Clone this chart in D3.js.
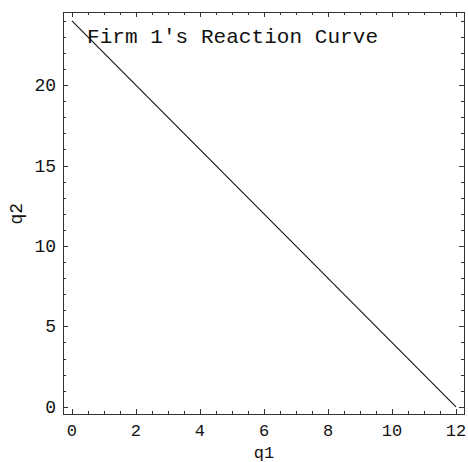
<!DOCTYPE html>
<html>
<head>
<meta charset="utf-8">
<script src="https://cdn.jsdelivr.net/npm/d3@7"></script>
<style>
  html, body { margin: 0; padding: 0; background: #fff; }
  svg { display: block; }
</style>
</head>
<body>
<svg id="chart" width="468" height="462"></svg>
<script>
// Firm 1's reaction curve: q2 = 24 - 2 q1
const q1Values = [0, 12];
const q2Values = [24, 0];
const xTickValues = [0, 2, 4, 6, 8, 10, 12];
const yTickValues = [0, 5, 10, 15, 20];
const xMinorStep = 0.5;
const yMinorStep = 1;
const curveLabel = "Firm 1's Reaction Curve";
const xTitle = "q1";
const yTitle = "q2";

const frame = { left: 63, right: 464, top: 12, bottom: 414 };
const mono = "'Liberation Mono', 'DejaVu Sans Mono', monospace";

const svg = d3.select("#chart");

// Plot range is padded slightly beyond the data, as in a framed plot
const x = d3.scaleLinear().domain([-0.28, 12.25]).range([frame.left, frame.right]);
const y = d3.scaleLinear().domain([-0.45, 24.55]).range([frame.bottom, frame.top]);

const frameColor = "#333";

// Ticks on all four sides of the frame, pointing inward
function range(a, b, step) {
  const out = [];
  for (let v = a; v <= b + 1e-9; v += step) out.push(+v.toFixed(6));
  return out;
}
const xMinor = range(0, 12, xMinorStep).filter(v => !xTickValues.includes(v));
const yMinor = range(0, 24, yMinorStep).filter(v => !yTickValues.includes(v));

const ticks = svg.append("g").attr("stroke", frameColor).attr("stroke-width", 1);
const majorLen = 5, minorLen = 3;

function xTicks(vals, len) {
  vals.forEach(v => {
    const px = Math.round(x(v)) + 0.5;
    ticks.append("line").attr("x1", px).attr("x2", px)
      .attr("y1", frame.bottom).attr("y2", frame.bottom - len);
    ticks.append("line").attr("x1", px).attr("x2", px)
      .attr("y1", frame.top).attr("y2", frame.top + len);
  });
}
function yTicks(vals, len) {
  vals.forEach(v => {
    const py = Math.round(y(v)) + 0.5;
    ticks.append("line").attr("y1", py).attr("y2", py)
      .attr("x1", frame.left).attr("x2", frame.left + len);
    ticks.append("line").attr("y1", py).attr("y2", py)
      .attr("x1", frame.right).attr("x2", frame.right - len);
  });
}
xTicks(xTickValues, majorLen);
xTicks(xMinor, minorLen);
yTicks(yTickValues, majorLen);
yTicks(yMinor, minorLen);

// Frame
svg.append("rect")
  .attr("x", frame.left + 0.5).attr("y", frame.top + 0.5)
  .attr("width", frame.right - frame.left).attr("height", frame.bottom - frame.top)
  .attr("fill", "none").attr("stroke", frameColor).attr("stroke-width", 1);

// Tick labels
svg.append("g").selectAll("text").data(xTickValues).join("text")
  .attr("x", d => x(d)).attr("y", 436)
  .attr("text-anchor", "middle")
  .attr("font-family", mono).attr("font-size", 17).attr("fill", "#111")
  .text(d => d);

svg.append("g").selectAll("text").data(yTickValues).join("text")
  .attr("x", 56).attr("y", d => y(d) + 6)
  .attr("text-anchor", "end")
  .attr("font-family", mono).attr("font-size", 18).attr("fill", "#111")
  .text(d => d);

// Axis titles
svg.append("text")
  .attr("x", x(6)).attr("y", 458)
  .attr("text-anchor", "middle")
  .attr("font-family", mono).attr("font-size", 17).attr("fill", "#111")
  .text(xTitle);

svg.append("text")
  .attr("transform", `translate(22,${y(12)}) rotate(-90)`)
  .attr("text-anchor", "middle")
  .attr("font-family", mono).attr("font-size", 18).attr("fill", "#111")
  .text(yTitle);

// Reaction curve
const line = d3.line().x(d => x(d[0])).y(d => y(d[1]));
svg.append("path")
  .datum(d3.zip(q1Values, q2Values))
  .attr("d", line)
  .attr("fill", "none").attr("stroke", "#111").attr("stroke-width", 1.1);

// Curve label
svg.append("text")
  .attr("x", 87).attr("y", 43)
  .attr("font-family", mono).attr("font-size", 21).attr("fill", "#111")
  .attr("textLength", 291).attr("lengthAdjust", "spacing")
  .text(curveLabel);
</script>
</body>
</html>
